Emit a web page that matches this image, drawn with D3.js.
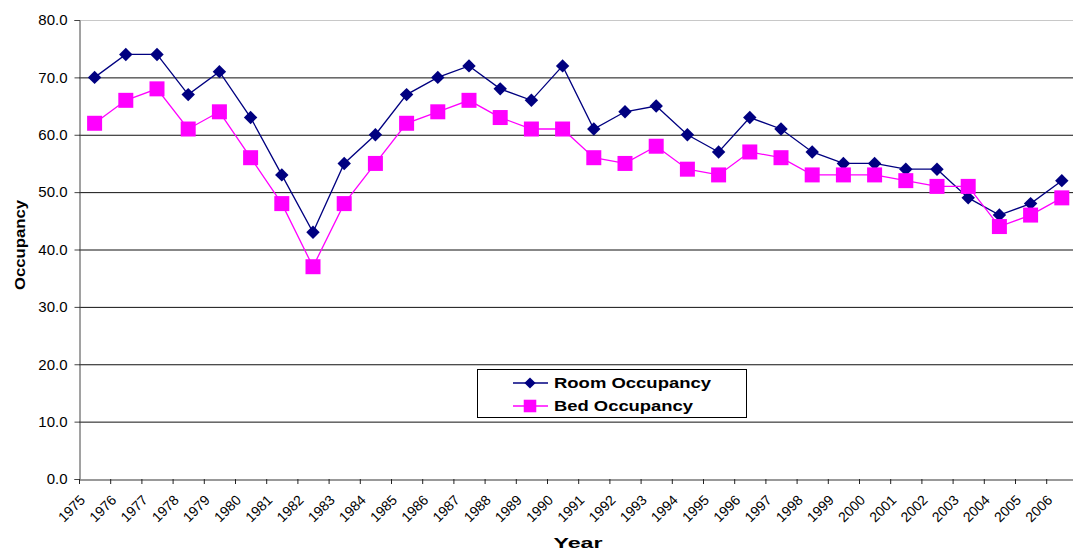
<!DOCTYPE html>
<html>
<head>
<meta charset="utf-8">
<script src="https://cdn.jsdelivr.net/npm/d3@7"></script>
<style>
  body { margin: 0; background: #fff; }
  #stage { width: 1073px; height: 551px; overflow: hidden; }
  text { font-family: Arial, "Liberation Sans", sans-serif; }
</style>
</head>
<body>
<div id="stage"></div>
<script>
const years = d3.range(1975, 2007).map(String);
const roomOccupancy = [70, 74, 74, 67, 71, 63, 53, 43, 55, 60, 67, 70, 72, 68, 66, 72,
  61, 64, 65, 60, 57, 63, 61, 57, 55, 55, 54, 54, 49, 46, 48, 52];
const bedOccupancy = [62, 66, 68, 61, 64, 56, 48, 37, 48, 55, 62, 64, 66, 63, 61, 61,
  56, 55, 58, 54, 53, 57, 56, 53, 53, 53, 52, 51, 51, 44, 46, 49];
const yTicks = [0, 10, 20, 30, 40, 50, 60, 70, 80];

const width = 1073;
const height = 551;
const plotLeft = 79, plotTop = 20, plotBottom = 479;
const step = 31.2;
const plotRight = plotLeft + step * years.length;
const heavyFont = "'DejaVu Sans', Verdana, sans-serif";

const svg = d3.select("#stage")
  .append("svg")
  .attr("width", width)
  .attr("height", height);

const x = d3.scaleBand().domain(years).range([plotLeft, plotRight]);
const y = d3.scaleLinear().domain([0, 80]).range([plotBottom, plotTop]);

// gridlines
svg.append("g")
  .selectAll("line")
  .data(yTicks.filter(d => d > 0))
  .join("line")
  .attr("x1", plotLeft).attr("x2", plotRight)
  .attr("y1", d => y(d) + 0.5).attr("y2", d => y(d) + 0.5)
  .attr("stroke", d => d === 80 ? "#c8c8c8" : "#111")
  .attr("stroke-width", 1);

// y axis
const yAxis = svg.append("g")
  .attr("transform", `translate(${plotLeft + 0.5},0)`)
  .call(d3.axisLeft(y).tickValues(yTicks).tickFormat(d3.format(".1f")).tickSizeOuter(0).tickSize(5));
yAxis.select(".domain").attr("stroke", "#444");
yAxis.selectAll(".tick line").attr("stroke", "#444");
yAxis.selectAll(".tick text")
  .attr("x", -12)
  .attr("font-size", 15)
  .attr("font-family", "Arial, 'Liberation Sans', sans-serif")
  .attr("fill", "#000");

// x axis
const xAxis = svg.append("g")
  .attr("transform", `translate(0,${plotBottom + 0.5})`)
  .call(d3.axisBottom(x).tickSize(0).tickSizeOuter(0));
xAxis.select(".domain").attr("stroke", "#777").attr("stroke-width", 1.5);
xAxis.selectAll(".tick text")
  .attr("font-size", 14)
  .attr("font-family", "Arial, 'Liberation Sans', sans-serif")
  .attr("fill", "#000")
  .attr("text-anchor", "end")
  .attr("transform", "translate(-12,18) rotate(-45)")
  .attr("dy", "0.35em")
  .attr("y", 0)
  .attr("x", 0);

// boundary ticks between categories
svg.append("g")
  .selectAll("line")
  .data(years)
  .join("line")
  .attr("x1", d => x(d) + 0.5).attr("x2", d => x(d) + 0.5)
  .attr("y1", plotBottom).attr("y2", plotBottom + 5)
  .attr("stroke", "#222");

const line = d3.line()
  .x((d, i) => x(years[i]) + x.bandwidth() / 2)
  .y(d => y(d));

const series = [
  { name: "Room Occupancy", values: roomOccupancy, color: "#000080", rotate: 45, size: 90, labelWidth: 157 },
  { name: "Bed Occupancy", values: bedOccupancy, color: "#ff00ff", rotate: 0, size: 225, labelWidth: 139 }
];

series.forEach(s => {
  svg.append("path")
    .datum(s.values)
    .attr("fill", "none")
    .attr("stroke", s.color)
    .attr("stroke-width", 1.3)
    .attr("d", line);
});

// markers: room first, bed on top
series.forEach(s => {
  svg.append("g")
    .selectAll("path")
    .data(s.values)
    .join("path")
    .attr("transform", (d, i) =>
      `translate(${x(years[i]) + x.bandwidth() / 2},${y(d)}) rotate(${s.rotate})`)
    .attr("d", d3.symbol().type(d3.symbolSquare).size(s.size))
    .attr("fill", s.color);
});

// legend
const legend = svg.append("g").attr("transform", "translate(477,369)");
legend.append("rect")
  .attr("x", 0.5).attr("y", 0.5)
  .attr("width", 269).attr("height", 48)
  .attr("fill", "#fff")
  .attr("stroke", "#000");
series.forEach((s, i) => {
  const ly = 14 + i * 23;
  legend.append("line")
    .attr("x1", 36).attr("x2", 71)
    .attr("y1", ly).attr("y2", ly)
    .attr("stroke", s.color).attr("stroke-width", 1.3);
  legend.append("path")
    .attr("transform", `translate(53,${ly}) rotate(${s.rotate})`)
    .attr("d", d3.symbol().type(d3.symbolSquare).size(s.size * 0.7))
    .attr("fill", s.color);
  legend.append("text")
    .attr("x", 77).attr("y", ly)
    .attr("dy", "0.36em")
    .attr("font-family", heavyFont)
    .attr("font-size", 14)
    .attr("font-weight", "bold")
    .attr("textLength", s.labelWidth)
    .attr("lengthAdjust", "spacingAndGlyphs")
    .attr("fill", "#000")
    .text(s.name);
});

// axis titles
svg.append("text")
  .attr("transform", `translate(25,245) rotate(-90)`)
  .attr("text-anchor", "middle")
  .attr("font-family", heavyFont)
  .attr("font-size", 15)
  .attr("font-weight", "bold")
  .attr("textLength", 90)
  .attr("lengthAdjust", "spacingAndGlyphs")
  .text("Occupancy");

svg.append("text")
  .attr("x", 578)
  .attr("y", 548)
  .attr("text-anchor", "middle")
  .attr("font-family", heavyFont)
  .attr("font-size", 15)
  .attr("font-weight", "bold")
  .attr("textLength", 49)
  .attr("lengthAdjust", "spacingAndGlyphs")
  .text("Year");
</script>
</body>
</html>
